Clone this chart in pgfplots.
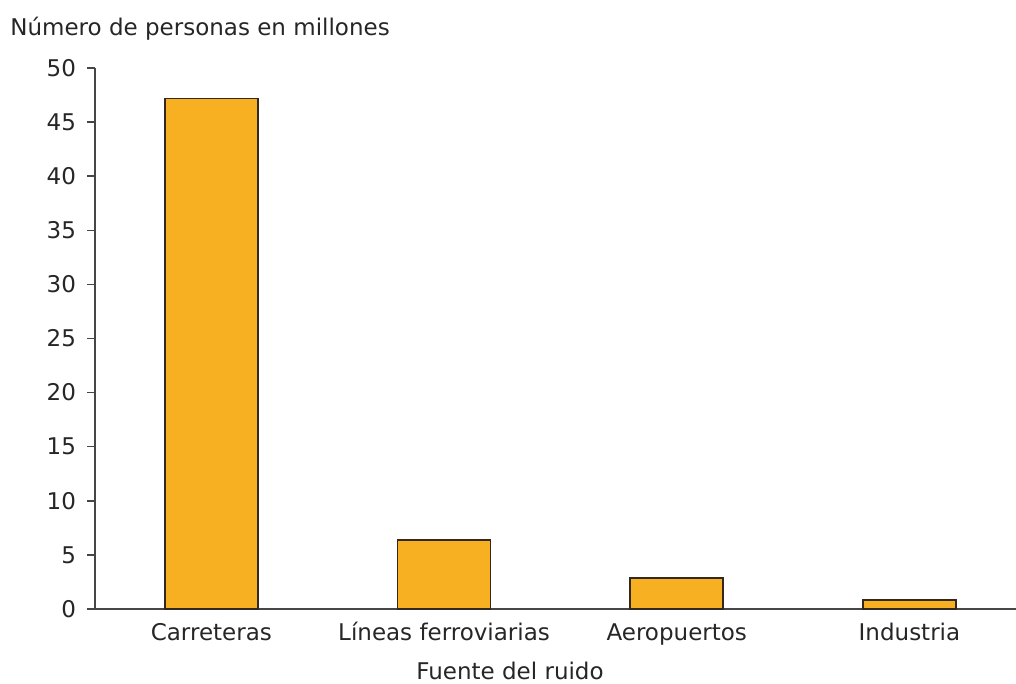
\documentclass[border=0pt]{standalone}
\usepackage{fontspec}
\setmainfont{DejaVu Sans}
\usepackage{pgfplots}
\pgfplotsset{compat=1.18}
\definecolor{barc}{RGB}{246,176,34}
\definecolor{edgec}{RGB}{50,40,30}
\definecolor{axc}{RGB}{70,70,70}
\definecolor{txtc}{RGB}{38,38,38}
\begin{document}
\begin{tikzpicture}
\useasboundingbox (-47.5pt,-37.5pt) rectangle (460.5pt,304.5pt);
\begin{axis}[
  at={(0,0)}, anchor=south west,
  scale only axis, width=460.5pt, height=270.5pt,
  xmin=-0.5, xmax=3.458, ymin=0, ymax=50,
  axis x line*=bottom, axis y line*=left,
  axis line style={axc, line width=0.75pt},
  every tick/.style={axc, line width=0.75pt},
  tick align=outside,
  major tick length=4pt, minor tick length=4pt,
  xtick={0,1,2,3},
  xticklabels={Carreteras, Líneas ferroviarias, Aeropuertos, Industria},
  x tick style={draw=none},
  minor xtick={-0.5,0.5,1.5,2.5},
  minor x tick style={axc, line width=0.75pt},
  ytick={0,5,...,50},
  tick label style={font=\fontsize{11.5}{13}\selectfont, text=txtc},
  /pgf/number format/assume math mode=true,
  xticklabel style={text height=8.4pt, text depth=2pt},
  yticklabel style={xshift=-2pt},
  clip=false,
]
\addplot[ybar, bar width=46.5pt, fill=barc, draw=edgec, line width=0.75pt]
  coordinates {(0,47.2) (1,6.4) (2,2.85) (3,0.85)};
\end{axis}
\node[anchor=west, inner sep=0pt, text=txtc, font=\fontsize{11.5}{13}\selectfont] at (-42.5pt,290pt) {Número de personas en millones};
\node[inner sep=0pt, text=txtc, font=\fontsize{11.5}{13}\selectfont] at (207.5pt,-31pt) {Fuente del ruido};
\end{tikzpicture}
\end{document}
